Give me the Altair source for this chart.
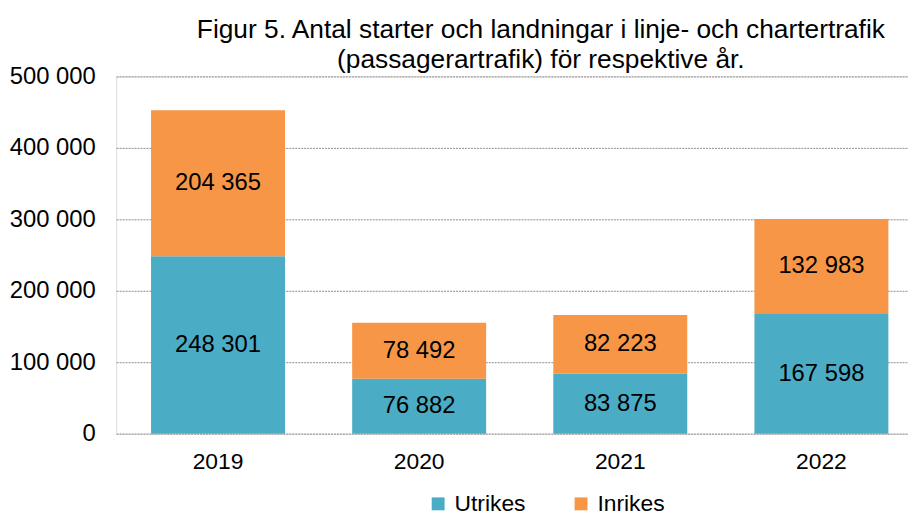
import altair as alt
import pandas as pd

years = ["2019", "2020", "2021", "2022"]
utrikes = [248301, 76882, 83875, 167598]
inrikes = [204365, 78492, 82223, 132983]
series_names = ["Utrikes", "Inrikes"]
series_colors = ["#4BACC6", "#F79646"]
y_ticks = [0, 100000, 200000, 300000, 400000, 500000]
title_lines = [
    "Figur 5. Antal starter och landningar i linje- och chartertrafik",
    "(passagerartrafik) för respektive år.",
]

rows = []
for i, yr in enumerate(years):
    rows.append({"year": yr, "series": "Utrikes", "order": 0, "value": utrikes[i]})
    rows.append({"year": yr, "series": "Inrikes", "order": 1, "value": inrikes[i]})
df = pd.DataFrame(rows)

FONT = "Liberation Sans"

base = alt.Chart(df).transform_stack(
    stack="value", groupby=["year"], as_=["y0", "y1"],
    sort=[alt.SortField("order", order="ascending")]
).transform_calculate(mid="(datum.y0 + datum.y1) / 2")

x_enc = alt.X(
    "year:N",
    sort=years,
    scale=alt.Scale(paddingInner=0.334, paddingOuter=0.1355, align=0.64,
                    round=False),
    axis=alt.Axis(title=None, labelAngle=0, domain=False, ticks=False,
                  labelFontSize=23, labelFont=FONT, labelColor="black",
                  labelPadding=17),
)

bars = base.mark_bar().encode(
    x=x_enc,
    y=alt.Y(
        "y0:Q",
        scale=alt.Scale(domain=[0, 500000], nice=False),
        axis=alt.Axis(title=None, values=y_ticks, format=",.0f", domain=False,
                      ticks=False, labelFontSize=24, labelFont=FONT,
                      labelColor="black", labelPadding=21, grid=True,
                      gridColor="#8c8c8c", gridDash=[2, 1], gridWidth=1),
    ),
    y2="y1:Q",
    color=alt.Color(
        "series:N",
        scale=alt.Scale(domain=series_names, range=series_colors),
        legend=alt.Legend(
            title=None, orient="none", direction="horizontal",
            legendX=313, legendY=419, symbolType="square", symbolSize=169,
            symbolStrokeWidth=0, labelFontSize=23, labelFont=FONT,
            labelColor="black", columnPadding=44, labelOffset=5,
        ),
    ),
)

labels = base.mark_text(fontSize=24, font=FONT, color="black").encode(
    x=alt.X("year:N", sort=years),
    y=alt.Y("mid:Q"),
    text=alt.Text("value:Q", format=",.0f"),
)

chart = (
    alt.layer(bars, labels)
    .properties(
        width=798,
        height=360,
        autosize=alt.AutoSizeParams(type="none"),
        padding={"left": 109, "top": 67, "right": 0, "bottom": 80},
        title=alt.TitleParams(
            title_lines, fontSize=26.5, font=FONT, fontWeight="normal",
            color="black", anchor="middle", dx=29, offset=-9, lineHeight=30,
        ),
    )
    .configure_view(stroke=None)
    .configure(locale={"number": {"decimal": ",", "thousands": " ",
                                  "grouping": [3], "currency": ["", " kr"]}})
)

chart.save("out.html", embed_options={"renderer": "svg", "actions": False})
